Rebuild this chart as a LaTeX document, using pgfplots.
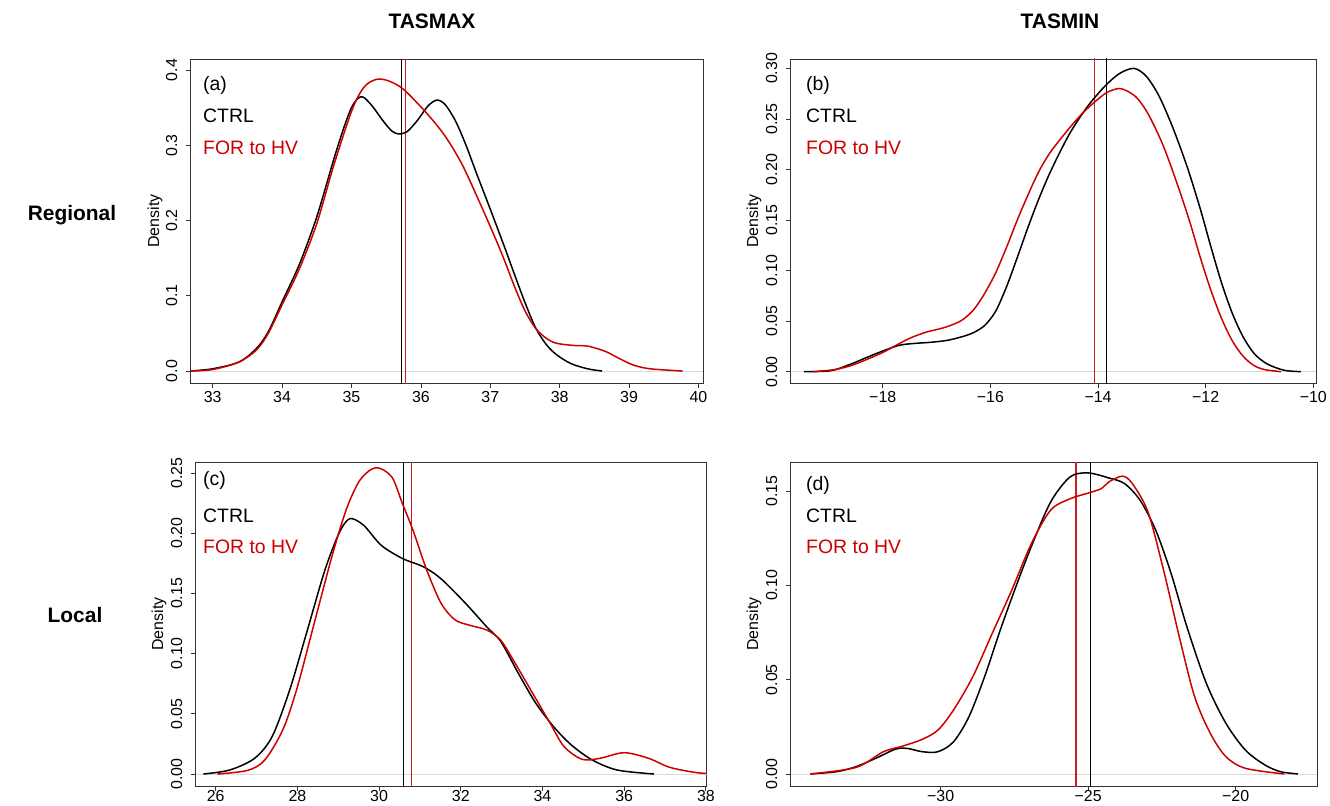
\documentclass[border=0pt]{standalone}
\usepackage{fontspec}
\setmainfont{Liberation Sans}
\usepackage{pgfplots}
\pgfplotsset{compat=1.18}
\definecolor{myred}{RGB}{204,0,0}
\definecolor{vred}{RGB}{200,30,30}
\pgfplotsset{
 panel/.style={
  scale only axis,
  axis line style={black!80, line width=0.8bp},
  tick style={black!80, line width=0.8bp},
  tick align=outside,
  major tick length=5bp,
  xtick pos=bottom, ytick pos=left,
  /pgf/number format/assume math mode=true,
  scaled y ticks=false, scaled x ticks=false,
  tick label style={font=\fontsize{16}{18}\selectfont},
  yticklabel style={rotate=90, anchor=south},
  yticklabel shift=5bp,
  height=324bp,
  clip=true,
  anchor=south west,
 },
 ctrl/.style={black, line width=1.5bp, smooth},
 hv/.style={myred, line width=1.5bp, smooth},
 zl/.style={black!15, line width=0.6bp},
 vb/.style={black, line width=1.3bp},
 vr/.style={vred, line width=1.3bp},
}
\begin{document}
\begin{tikzpicture}
\useasboundingbox (0,0) rectangle (1330bp,-806bp);
% ---------------- (a)
\begin{axis}[panel, at={(190.7bp,-383bp)}, width=512.3bp,
  xmin=32.683, xmax=40.065, ymin=-0.0159, ymax=0.4146,
  xtick={33,34,35,36,37,38,39,40},
  ytick={0,0.1,0.2,0.3,0.4}, yticklabels={0.0,0.1,0.2,0.3,0.4}]
\addplot[zl] coordinates {(32.683,0) (40.065,0)};
\addplot[vb] coordinates {(35.72,-0.1) (35.72,0.5)};
\addplot[vr] coordinates {(35.78,-0.1) (35.78,0.5)};
\addplot[ctrl] coordinates {(32.67,0) (33.0,0.003) (33.38,0.012) (33.63,0.030) (33.8,0.052) (34.0,0.092) (34.25,0.142) (34.5,0.205) (34.75,0.283) (34.9,0.326) (35.0,0.350) (35.09,0.362) (35.17,0.364) (35.3,0.352) (35.45,0.333) (35.58,0.319) (35.68,0.315) (35.8,0.318) (35.95,0.333) (36.1,0.352) (36.23,0.360) (36.35,0.354) (36.5,0.332) (36.65,0.300) (36.8,0.263) (37.0,0.215) (37.2,0.166) (37.35,0.128) (37.5,0.091) (37.65,0.058) (37.8,0.036) (37.95,0.022) (38.16,0.010) (38.4,0.003) (38.61,0)};
\addplot[hv] coordinates {(32.67,0) (33.0,0.002) (33.38,0.012) (33.63,0.028) (33.8,0.050) (34.0,0.088) (34.25,0.136) (34.5,0.196) (34.75,0.275) (35.0,0.345) (35.14,0.372) (35.25,0.383) (35.39,0.388) (35.55,0.385) (35.74,0.375) (35.99,0.352) (36.2,0.330) (36.35,0.312) (36.5,0.290) (36.65,0.264) (37.0,0.192) (37.2,0.148) (37.35,0.112) (37.5,0.080) (37.65,0.057) (37.8,0.044) (37.95,0.037) (38.2,0.034) (38.41,0.033) (38.66,0.026) (38.85,0.017) (39.06,0.008) (39.3,0.003) (39.77,0)};
\end{axis}
% ---------------- (b)
\begin{axis}[panel, at={(790.7bp,-383bp)}, width=525.3bp,
  xmin=-19.71, xmax=-9.95, ymin=-0.0112, ymax=0.3093,
  xtick={-18,-16,-14,-12,-10}, xticklabels={−18,−16,−14,−12,−10},
  ytick={0,0.05,0.1,0.15,0.2,0.25,0.3}, yticklabels={0.00,0.05,0.10,0.15,0.20,0.25,0.30}]
\addplot[zl] coordinates {(-19.71,0) (-9.95,0)};
\addplot[vb] coordinates {(-13.84,-0.1) (-13.84,0.5)};
\addplot[vr] coordinates {(-14.07,-0.1) (-14.07,0.5)};
\addplot[ctrl] coordinates {(-19.46,0) (-18.96,0.001) (-18.59,0.0076) (-18.3,0.014) (-18.07,0.019) (-17.7,0.026) (-17.4,0.028) (-17.12,0.029) (-16.8,0.031) (-16.5,0.035) (-16.3,0.039) (-16.1,0.046) (-15.9,0.060) (-15.7,0.084) (-15.5,0.113) (-15.3,0.143) (-15.1,0.171) (-14.9,0.196) (-14.7,0.218) (-14.5,0.238) (-14.2,0.262) (-13.88,0.282) (-13.6,0.295) (-13.33,0.300) (-13.1,0.292) (-12.86,0.272) (-12.6,0.240) (-12.34,0.202) (-12.1,0.161) (-11.9,0.123) (-11.7,0.087) (-11.5,0.057) (-11.3,0.034) (-11.1,0.018) (-10.9,0.009) (-10.7,0.004) (-10.5,0.001) (-10.23,0)};
\addplot[hv] coordinates {(-19.3,0) (-18.9,0.002) (-18.59,0.006) (-18.3,0.012) (-18.0,0.019) (-17.79,0.025) (-17.5,0.033) (-17.2,0.039) (-16.9,0.043) (-16.68,0.047) (-16.5,0.052) (-16.3,0.062) (-16.1,0.078) (-15.9,0.098) (-15.7,0.123) (-15.5,0.150) (-15.3,0.175) (-15.1,0.198) (-14.9,0.216) (-14.7,0.230) (-14.5,0.243) (-14.3,0.255) (-14.1,0.265) (-13.84,0.276) (-13.58,0.280) (-13.3,0.272) (-13.07,0.255) (-12.8,0.225) (-12.55,0.189) (-12.3,0.149) (-12.1,0.113) (-11.9,0.080) (-11.7,0.052) (-11.5,0.030) (-11.3,0.015) (-11.1,0.006) (-10.9,0.002) (-10.6,0)};
\end{axis}
% ---------------- (c)
\begin{axis}[panel, at={(195.7bp,-786bp)}, width=511bp,
  xmin=25.51, xmax=38.02, ymin=-0.00996, ymax=0.2591,
  xticklabel shift=-4bp,
  xtick={26,28,30,32,34,36,38},
  ytick={0,0.05,0.1,0.15,0.2,0.25}, yticklabels={0.00,0.05,0.10,0.15,0.20,0.25}]
\addplot[zl] coordinates {(25.51,0) (38.02,0)};
\addplot[vb] coordinates {(30.60,-0.1) (30.60,0.5)};
\addplot[vr] coordinates {(30.80,-0.1) (30.80,0.5)};
\addplot[ctrl] coordinates {(25.7,0) (26.34,0.0033) (26.95,0.013) (27.38,0.031) (27.81,0.0697) (28.24,0.119) (28.67,0.169) (29.02,0.200) (29.28,0.212) (29.62,0.2066) (30.05,0.190) (30.57,0.179) (31.09,0.172) (31.52,0.162) (32.12,0.1416) (32.64,0.122) (32.98,0.110) (33.41,0.0835) (33.84,0.0586) (34.28,0.039) (34.71,0.024) (35.22,0.0116) (35.83,0.0033) (36.73,0)};
\addplot[hv] coordinates {(26.04,0) (26.78,0.003) (27.2,0.0116) (27.64,0.0365) (27.98,0.070) (28.41,0.125) (28.84,0.180) (29.19,0.219) (29.53,0.244) (29.92,0.2544) (30.31,0.2467) (30.57,0.2246) (30.83,0.2024) (31.17,0.169) (31.52,0.1416) (31.86,0.128) (32.21,0.1236) (32.64,0.1195) (32.98,0.111) (33.33,0.092) (33.76,0.067) (34.19,0.042) (34.53,0.0227) (34.97,0.0122) (35.4,0.013) (36.0,0.0177) (36.6,0.013) (37.12,0.0055) (37.81,0.001) (38.4,0)};
\end{axis}
% ---------------- (d)
\begin{axis}[panel, at={(790.8bp,-786bp)}, width=526.2bp,
  xmin=-35.08, xmax=-17.24, ymin=-0.0064, ymax=0.1655,
  xticklabel shift=-4bp,
  xtick={-30,-25,-20}, xticklabels={−30,−25,−20},
  ytick={0,0.05,0.1,0.15}, yticklabels={0.00,0.05,0.10,0.15}]
\addplot[zl] coordinates {(-35.08,0) (-17.24,0)};
\addplot[vb] coordinates {(-24.92,-0.1) (-24.92,0.5)};
\addplot[vr] coordinates {(-25.41,-0.1) (-25.41,0.5)};
\addplot[ctrl] coordinates {(-34.42,0) (-33.52,0.0012) (-32.86,0.0039) (-32.2,0.0083) (-31.54,0.0131) (-31.15,0.0136) (-30.62,0.0118) (-30.09,0.0118) (-29.56,0.0171) (-29.04,0.0304) (-28.51,0.0516) (-27.98,0.0763) (-27.45,0.0993) (-26.93,0.1205) (-26.27,0.1443) (-25.61,0.1576) (-25.0,0.1597) (-24.29,0.157) (-23.76,0.154) (-23.23,0.145) (-22.7,0.129) (-22.18,0.106) (-21.65,0.078) (-20.99,0.048) (-20.33,0.0269) (-19.67,0.0127) (-19.01,0.0048) (-18.48,0.0012) (-17.89,0)};
\addplot[hv] coordinates {(-34.42,0) (-32.86,0.0035) (-31.94,0.0118) (-31.28,0.0148) (-30.62,0.0184) (-30.09,0.0233) (-29.56,0.034) (-28.91,0.0516) (-28.25,0.0746) (-27.59,0.0975) (-26.93,0.122) (-26.27,0.14) (-25.61,0.146) (-25.0,0.149) (-24.55,0.1514) (-24.29,0.155) (-23.83,0.158) (-23.5,0.154) (-22.97,0.139) (-22.44,0.108) (-21.91,0.0728) (-21.39,0.041) (-20.86,0.0216) (-20.33,0.0092) (-19.67,0.003) (-18.35,0)};
\end{axis}
% ---------------- texts
\tikzset{lab/.style={anchor=west, inner sep=0pt, font=\fontsize{19.5}{22}\selectfont}}
\node[lab] at (203bp,-85bp) {(a)};
\node[lab] at (203bp,-116bp) {CTRL};
\node[lab, text=myred] at (203bp,-148bp) {FOR to HV};
\node[lab] at (806bp,-85bp) {(b)};
\node[lab] at (806bp,-116bp) {CTRL};
\node[lab, text=myred] at (806bp,-148bp) {FOR to HV};
\node[lab] at (203bp,-480bp) {(c)};
\node[lab] at (203bp,-516bp) {CTRL};
\node[lab, text=myred] at (203bp,-547bp) {FOR to HV};
\node[lab] at (806bp,-485bp) {(d)};
\node[lab] at (806bp,-516bp) {CTRL};
\node[lab, text=myred] at (806bp,-547bp) {FOR to HV};
\tikzset{dens/.style={rotate=90, inner sep=0pt, font=\fontsize{16}{18}\selectfont}}
\node[dens] at (155bp,-221bp) {Density};
\node[dens] at (754bp,-221bp) {Density};
\node[dens] at (159bp,-624bp) {Density};
\node[dens] at (754bp,-624bp) {Density};
\tikzset{ttl/.style={inner sep=0pt, font=\bfseries\fontsize{21}{24}\selectfont}}
\node[ttl] at (432bp,-21bp) {TASMAX};
\node[ttl] at (1060bp,-21bp) {TASMIN};
\node[ttl] at (72bp,-215bp) {Regional};
\node[ttl] at (75bp,-615bp) {Local};
\end{tikzpicture}
\end{document}
